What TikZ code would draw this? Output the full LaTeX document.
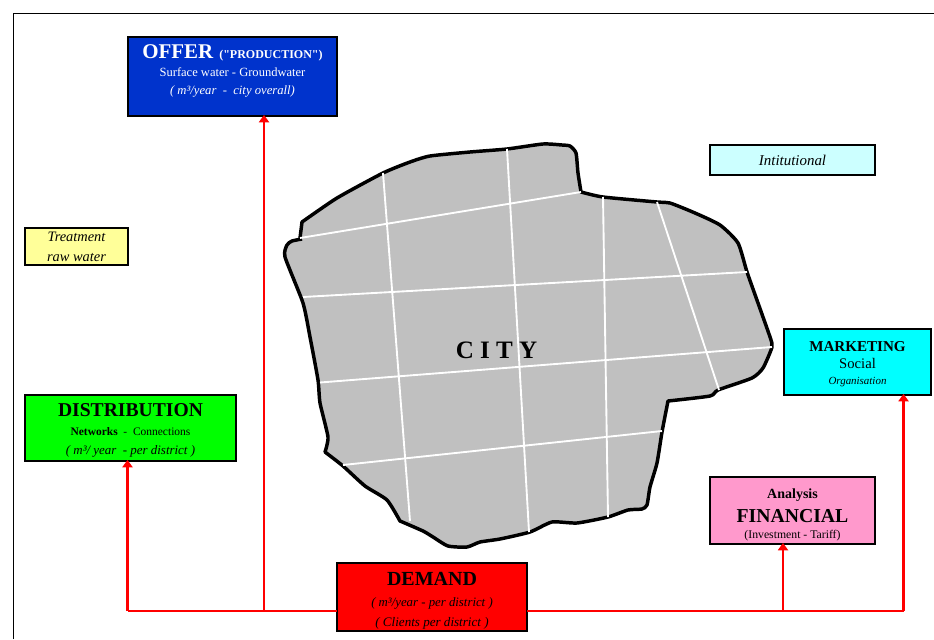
\documentclass[tikz,border=0pt]{standalone}
\usepackage{fontspec}
\setmainfont{Liberation Serif}
\newfontfamily\straightserif{Liberation Serif}
\usetikzlibrary{arrows.meta}
\definecolor{offerblue}{HTML}{0033CC}
\definecolor{paleyellow}{HTML}{FFFF99}
\definecolor{palecyan}{HTML}{CCFFFF}
\definecolor{purecyan}{HTML}{00FFFF}
\definecolor{puregreen}{HTML}{00FF00}
\definecolor{purered}{HTML}{FF0000}
\definecolor{finpink}{HTML}{FF99CC}
\definecolor{citygrey}{HTML}{C0C0C0}
\newcommand{\fs}[1]{\fontsize{#1}{#1}\selectfont}
\newcommand{\pad}[1]{\rule{0pt}{#1}}
\newcommand{\padd}[1]{\rule[-#1]{0pt}{#1}}
\tikzset{
  x=0.75pt,y=-0.75pt,
  box/.style={draw=black,line width=1.6pt,inner sep=0pt,outer sep=0pt,align=center,text=black,font=\fs{9}},
  frameline/.style={draw=black,line width=0.8pt},
  conn/.style={draw=purered,line width=2.2pt},
  connarrow/.style={conn,-{Triangle[length=5.5pt,width=7.5pt]},shorten >=-0.8pt},
  street/.style={draw=white,line width=1.4pt},
  cityshape/.style={fill=citygrey,draw=black,line width=2.6pt,line join=round},
  edgecurve/.style={smooth,tension=0.35},
}
\begin{document}
\begin{tikzpicture}
\useasboundingbox (0,0) rectangle (934,639);
\fill[white] (0,0) rectangle (934,639);
% frame
\coordinate (fa) at (13.5,639);
\coordinate (fb) at (13.5,13.5);
\coordinate (fc) at (934,13.5);
\draw[frameline] (fa) -- (fb) -- (fc);
% city
\draw[cityshape] plot[edgecurve] coordinates {(300,238) (302,222)}
 -- plot[edgecurve] coordinates {(302,222) (337,198) (383,173) (410,162) (430,156) (470,152) (507,149) (543,144) (562,145) (570,146) (576,153) (578,173) (581,192)}
 -- plot[edgecurve] coordinates {(581,192) (603,197) (657,202) (670,203) (695,213) (720,225) (738,243) (747,272) (758,303) (770,337) (772,347) (763,368) (752,378) (718,390) (710,396) (668,401)}
 -- plot[edgecurve] coordinates {(668,401) (662,432) (657,463) (650,487) (647,505) (642,509) (628,510) (608,517) (577,523) (552,522) (530,532) (500,539) (480,542) (467,547) (448,546) (433,537) (423,531) (400,521)}
 -- plot[edgecurve] coordinates {(400,521) (387,500) (365,486) (343,466) (325,452)}
 -- plot[edgecurve] coordinates {(325,452) (328,437) (320,403) (318,380) (310,337) (303,303) (285,257) (287,245) (292,241) (302,239)};
\coordinate (h1a) at (300,238); \coordinate (h1b) at (581,192);
\coordinate (h2a) at (303,297); \coordinate (h2b) at (747,272);
\coordinate (h3a) at (320,382.5); \coordinate (h3b) at (772,347);
\coordinate (h4a) at (343,465); \coordinate (h4b) at (662,431);
\coordinate (v1a) at (383,173); \coordinate (v1b) at (410,521);
\coordinate (v2a) at (507,149); \coordinate (v2b) at (529,532);
\coordinate (v3a) at (603,197); \coordinate (v3b) at (608,517);
\coordinate (v4a) at (657,202); \coordinate (v4b) at (719,390);
\draw[street] (h1a) -- (h1b);
\draw[street] (h2a) -- (h2b);
\draw[street] (h3a) -- (h3b);
\draw[street] (h4a) -- (h4b);
\draw[street] (v1a) -- (v1b);
\draw[street] (v2a) -- (v2b);
\draw[street] (v3a) -- (v3b);
\draw[street] (v4a) -- (v4b);
\node[font=\bfseries\fs{18.8}] (citylabel) at (496.5,350) {C I T Y};
% boxes
\node[box,fill=offerblue,text=white,minimum width=156.75pt,minimum height=59.25pt] (offer) at (232.5,76.5)
  {{\fs{15.7}\bfseries OFFER}\ \ {\straightserif\fs{9}\bfseries ("PRODUCTION")}\\[4.5pt]
   {\fs{9.4}Surface water - Groundwater}\\[4.5pt]
   {\fs{9.5}\itshape ( m³/year\ \ -\ \ city overall)}\padd{10pt}};
\node[box,fill=paleyellow,minimum width=77.25pt,minimum height=27.75pt,font=\fs{10.8}\itshape] (treat) at (76.5,246.5)
  {Treatment\\[4.2pt]raw water};
\node[box,fill=palecyan,minimum width=123.75pt,minimum height=22.5pt,font=\fs{11.2}\itshape] (inst) at (792.5,160)
  {Intitutional};
\node[box,fill=purecyan,minimum width=110.25pt,minimum height=49.5pt] (marketing) at (857.5,362)
  {\pad{10.5pt}{\fs{11.3}\bfseries MARKETING}\\[4.2pt]
   {\fs{11}Social}\\[2.5pt]
   {\fs{8.2}\itshape Organisation}};
\node[box,fill=puregreen,minimum width=158.25pt,minimum height=49.5pt] (distribution) at (130.5,428)
  {\pad{13pt}{\fs{14.7}\bfseries DISTRIBUTION}\\[5.5pt]
   {\fs{8.6}\bfseries Networks}{\fs{8.6}\ \ -\ \ Connections}\\[5pt]
   {\fs{9.7}\itshape ( m³/ year\ \ - per district )}};
\node[box,fill=finpink,minimum width=123.75pt,minimum height=50.25pt] (financial) at (792.5,510.5)
  {\pad{13.5pt}{\fs{10.5}\bfseries Analysis}\\[5.5pt]
   {\fs{14.8}\bfseries FINANCIAL}\\[2.5pt]
   {\fs{8.8}(Investment - Tariff)}};
\node[box,fill=purered,minimum width=142.5pt,minimum height=51pt] (demand) at (432,597)
  {\pad{15pt}{\fs{15}\bfseries DEMAND}\\[6.8pt]
   {\fs{9.6}\itshape ( m³/year - per district )}\\[5.8pt]
   {\fs{9.8}\itshape ( Clients per district )}};
% connectors
\coordinate (busw) at (127.5,611);
\coordinate (buso) at (264,611);
\coordinate (busf) at (783,611);
\coordinate (buse) at (903.5,611);
\draw[conn] (demand.west |- busw) -- (busw);
\draw[connarrow] (busw) -- (busw |- distribution.south);
\draw[connarrow] (buso) -- (buso |- offer.south);
\draw[conn] (demand.east |- buse) -- (buse);
\draw[connarrow] (busf) -- (busf |- financial.south);
\draw[connarrow] (buse) -- (buse |- marketing.south);
\end{tikzpicture}
\end{document}
